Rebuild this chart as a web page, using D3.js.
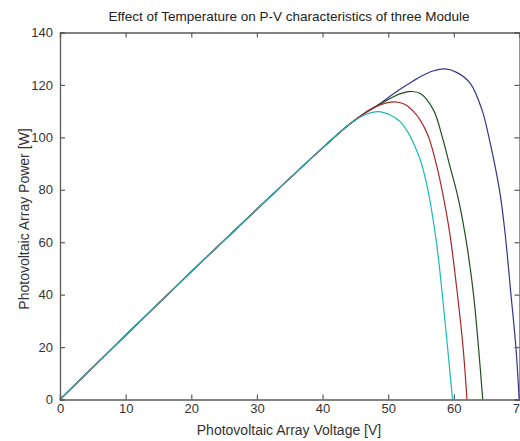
<!DOCTYPE html>
<html>
<head>
<meta charset="utf-8">
<script src="https://cdn.jsdelivr.net/npm/d3@7"></script>
<style>
  body { margin: 0; background: #fff; }
  svg { display: block; font-family: "Liberation Sans", Arial, sans-serif; }
</style>
</head>
<body>
<div id="chart"></div>
<script>
// ---------------------------------------------------------------------------
// Data

const xTicks = [0, 10, 20, 30, 40, 50, 60, 70];
const yTicks = [0, 20, 40, 60, 80, 100, 120, 140];

// shared linear part of the P-V curves
const linearV = [0, 10, 20, 30, 40, 44];
const linearP = [0, 24.5, 48.8, 72.6, 96, 104.8];

const cyanV = [46.5, 48.5, 50.3, 51.8, 53, 54, 55, 56, 57, 57.6, 58.2, 59, 59.4, 59.8];
const cyanP = [108.6, 109.8, 108.5, 106, 102, 97, 90.5, 80.5, 66, 55, 41, 21, 10.5, 0];

const redV = [46.5, 48.7, 51, 52.5, 53.8, 54.9, 56.1, 57.4, 58.3, 59.4, 60.55, 61.4, 62];
const redP = [109.3, 112.3, 113.5, 112.6, 110, 106.5, 100.5, 89, 78.6, 63, 40, 20, 0];

const greenV = [46.5, 48.7, 50.8, 52, 53.6, 54.9, 56.9, 58.2, 59.4, 60.5, 61.4, 62.1, 63, 63.75, 64.4];
const greenP = [109.4, 112.6, 115.5, 116.8, 117.5, 116.7, 110.4, 100.5, 89, 78.5, 67.5, 57, 40, 20, 0];

const blueV = [46.5, 48.7, 51.3, 53.8, 55, 56.8, 58.7, 60.5, 62.5, 64.3, 65.3, 66.3, 67.1, 67.8, 68.7, 69.45, 69.95];
const blueP = [109.4, 112.8, 117.5, 121.5, 123.3, 125.3, 126.1, 124.7, 120.6, 110.4, 100.5, 88.7, 77.5, 63.5, 40, 20, 0];

const series = [
  { name: 'blue', color: '#35358a', v: blueV, p: blueP },
  { name: 'green', color: '#1f4f1f', v: greenV, p: greenP },
  { name: 'red', color: '#a82828', v: redV, p: redP },
  { name: 'cyan', color: '#1db8b8', v: cyanV, p: cyanP }
];

// ---------------------------------------------------------------------------
// Layout

const width = 520, height = 441;
const margin = { top: 32.5, right: 0.5, bottom: 41.5, left: 60 };

const svg = d3.select('#chart').append('svg')
  .attr('width', width)
  .attr('height', height);

const x = d3.scaleLinear().domain([0, 70]).range([margin.left, width - margin.right]);
const y = d3.scaleLinear().domain([0, 140]).range([height - margin.bottom, margin.top]);

const axisColor = '#5a5a5a';
const textColor = '#333';

// curves
const line = d3.line()
  .x(d => x(d[0]))
  .y(d => y(d[1]))
  .curve(d3.curveCatmullRom.alpha(0.5));

series.forEach(function(s) {
  const pts = linearV.map((v, i) => [v, linearP[i]])
    .concat(s.v.map((v, i) => [v, s.p[i]]));
  svg.append('path')
    .datum(pts)
    .attr('fill', 'none')
    .attr('stroke', s.color)
    .attr('stroke-width', 1.2)
    .attr('d', line);
});

// axes (ticks inside, box on)
const axisBottomG = svg.append('g')
  .attr('transform', `translate(0,${y(0)})`)
  .call(d3.axisBottom(x).tickValues(xTicks).tickSize(-5).tickPadding(4.5));
const axisTopG = svg.append('g')
  .attr('transform', `translate(0,${y(140)})`)
  .call(d3.axisTop(x).tickValues(xTicks).tickSize(-5).tickFormat(''));
const axisLeftG = svg.append('g')
  .attr('transform', `translate(${x(0)},0)`)
  .call(d3.axisLeft(y).tickValues(yTicks).tickSize(-5).tickPadding(7));
const axisRightG = svg.append('g')
  .attr('transform', `translate(${x(70)},0)`)
  .call(d3.axisRight(y).tickValues(yTicks).tickSize(-5).tickFormat(''));

[axisBottomG, axisTopG, axisLeftG, axisRightG].forEach(function(g) {
  g.select('.domain').attr('stroke', axisColor).attr('stroke-width', 1.3);
  g.selectAll('.tick line').attr('stroke', axisColor).attr('stroke-width', 1.2);
  g.selectAll('.tick text')
    .attr('fill', textColor)
    .style('font-size', '13px')
    .style('font-family', '"Liberation Sans", Arial, sans-serif');
});

// labels
svg.append('text')
  .attr('x', 289)
  .attr('y', 21)
  .attr('text-anchor', 'middle')
  .attr('fill', '#222')
  .style('font-size', '13.5px')
  .text('Effect of Temperature on P-V characteristics of three Module');

svg.append('text')
  .attr('x', 289)
  .attr('y', 435)
  .attr('text-anchor', 'middle')
  .attr('fill', textColor)
  .style('font-size', '14px')
  .text('Photovoltaic Array Voltage [V]');

svg.append('text')
  .attr('transform', `translate(29,${(y(0) + y(140)) / 2 + 3}) rotate(-90)`)
  .attr('text-anchor', 'middle')
  .attr('fill', textColor)
  .style('font-size', '14px')
  .text('Photovoltaic Array Power [W]');
</script>
</body>
</html>
